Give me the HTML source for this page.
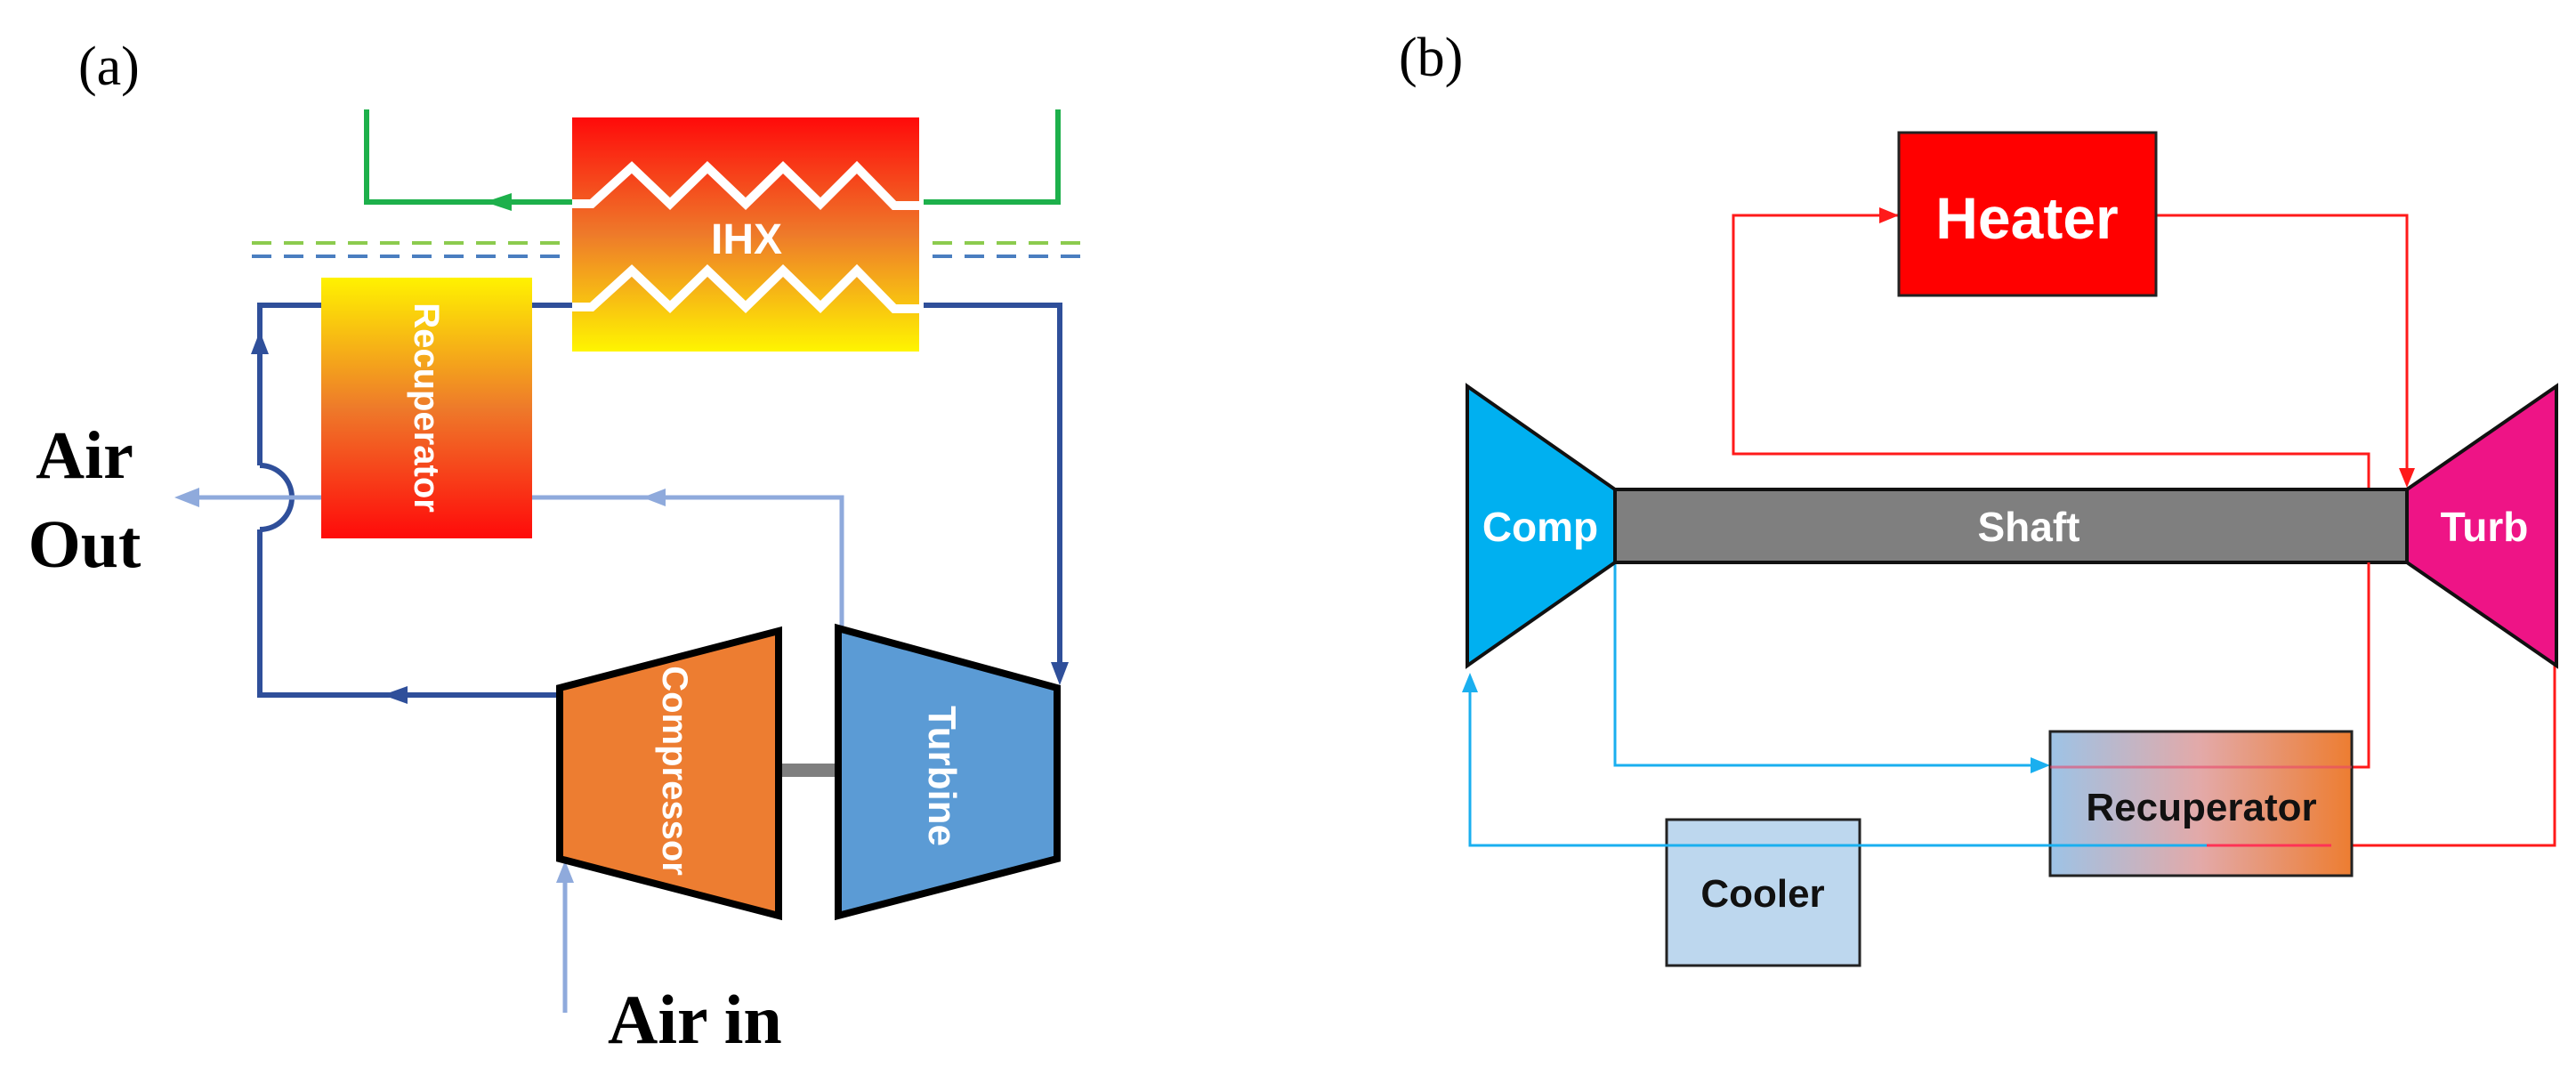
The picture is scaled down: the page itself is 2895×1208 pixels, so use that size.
<!DOCTYPE html>
<html><head><meta charset="utf-8"><style>
html,body{margin:0;padding:0;background:#fff;}
svg{display:block;}
.sans{font-family:"Liberation Sans",Arial,sans-serif;font-weight:bold;}
.serif{font-family:"Liberation Serif","Times New Roman",serif;}
</style></head><body>
<svg width="2895" height="1208" viewBox="0 0 2895 1208" xmlns="http://www.w3.org/2000/svg">
<defs>
<linearGradient id="ihx" x1="0" y1="0" x2="0" y2="1">
<stop offset="0" stop-color="#FF0A0A"/><stop offset="0.5" stop-color="#EE7A2A"/><stop offset="1" stop-color="#FFF500"/>
</linearGradient>
<linearGradient id="rec" x1="0" y1="0" x2="0" y2="1">
<stop offset="0" stop-color="#FFF200"/><stop offset="0.5" stop-color="#EE7A2A"/><stop offset="1" stop-color="#FF0A0A"/>
</linearGradient>
<linearGradient id="rec2" x1="0" y1="0" x2="1" y2="0">
<stop offset="0" stop-color="#9DC3E6"/><stop offset="0.5" stop-color="#E3A9A8"/><stop offset="1" stop-color="#ED7D31"/>
</linearGradient>
</defs>

<text x="88" y="95" class="serif" font-size="62">(a)</text>

<polyline points="412,123 412,227 643,227" fill="none" stroke="#1DB04B" stroke-width="6"/>
<polygon points="545,227 575,217 575,237" fill="#1DB04B"/>
<polyline points="1038,227 1189,227 1189,123" fill="none" stroke="#1DB04B" stroke-width="6"/>
<line x1="283" y1="273" x2="643" y2="273" stroke="#8CCB4E" stroke-width="4" stroke-dasharray="22,14"/>
<line x1="283" y1="288" x2="643" y2="288" stroke="#4A7EC0" stroke-width="4" stroke-dasharray="22,14"/>
<line x1="1048" y1="273" x2="1218" y2="273" stroke="#8CCB4E" stroke-width="4" stroke-dasharray="22,14"/>
<line x1="1048" y1="288" x2="1218" y2="288" stroke="#4A7EC0" stroke-width="4" stroke-dasharray="22,14"/>

<rect x="643" y="132" width="390" height="263" fill="url(#ihx)"/>
<polyline points="643,229 665,229 710,188 753,229 795,188 838,229 880,188 922,229 963,188 1005,231 1033,231" fill="none" stroke="#fff" stroke-width="10"/>
<polyline points="643,345 665,345 710,304 753,345 795,304 838,345 880,304 922,345 963,304 1005,347 1033,347" fill="none" stroke="#fff" stroke-width="10"/>
<text x="839" y="285" class="sans" font-size="48" fill="#fff" text-anchor="middle">IHX</text>

<polyline points="361,343 292,343 292,523" fill="none" stroke="#2F4F9A" stroke-width="6"/>
<path d="M292,523 A18,18 0 0 1 292,595" fill="none" stroke="#2F4F9A" stroke-width="6"/>
<polyline points="292,595 292,781 629,781" fill="none" stroke="#2F4F9A" stroke-width="6"/>
<polygon points="292,372 282,398 302,398" fill="#2F4F9A"/>
<polygon points="430,781 458,771 458,791" fill="#2F4F9A"/>
<line x1="598" y1="343" x2="643" y2="343" stroke="#2F4F9A" stroke-width="6"/>
<polyline points="1038,343 1191,343 1191,750" fill="none" stroke="#2F4F9A" stroke-width="6"/>
<polygon points="1191,770 1181,744 1201,744" fill="#2F4F9A"/>

<polyline points="946,704 946,559 598,559" fill="none" stroke="#8FAADC" stroke-width="5"/>
<polygon points="722,559 748,549 748,569" fill="#8FAADC"/>
<line x1="361" y1="559" x2="210" y2="559" stroke="#8FAADC" stroke-width="5"/>
<polygon points="196,559 224,548 224,570" fill="#8FAADC"/>
<line x1="635" y1="1138" x2="635" y2="985" stroke="#8FAADC" stroke-width="5"/>
<polygon points="635,967 625,992 645,992" fill="#8FAADC"/>

<rect x="361" y="312" width="237" height="293" fill="url(#rec)"/>
<text transform="translate(466,458) rotate(90)" class="sans" font-size="40" fill="#fff" text-anchor="middle">Recuperator</text>

<rect x="877" y="858" width="64" height="15" fill="#7F7F7F"/>
<polygon points="629,773 875,709 875,1029 629,965" fill="#ED7D31" stroke="#000" stroke-width="8" stroke-linejoin="miter"/>
<text transform="translate(745,866) rotate(90)" class="sans" font-size="40" fill="#fff" text-anchor="middle">Compressor</text>
<polygon points="942,706 1188,773 1188,965 942,1029" fill="#5B9BD5" stroke="#000" stroke-width="8"/>
<text transform="translate(1044,872) rotate(90)" class="sans" font-size="44" fill="#fff" text-anchor="middle">Turbine</text>

<text x="95" y="537" class="serif" font-size="76" font-weight="bold" text-anchor="middle">Air</text>
<text x="95" y="637" class="serif" font-size="76" font-weight="bold" text-anchor="middle">Out</text>
<text x="683" y="1172" class="serif" font-size="78" font-weight="bold">Air in</text>

<text x="1572" y="85" class="serif" font-size="62">(b)</text>

<polyline points="2134,242 1948,242 1948,510 2662,510 2662,862 2643,862" fill="none" stroke="#FF1A1A" stroke-width="3"/>
<polygon points="2134,242 2112,233 2112,251" fill="#FF1A1A"/>
<polyline points="2423,242 2705,242 2705,530" fill="none" stroke="#FF1A1A" stroke-width="3"/>
<polygon points="2705,548 2696,526 2714,526" fill="#FF1A1A"/>
<polyline points="2871,748 2871,950 2600,950" fill="none" stroke="#FF1A1A" stroke-width="3"/>

<polyline points="1815,632 1815,860 2290,860" fill="none" stroke="#1AAFEF" stroke-width="3"/>
<polygon points="2304,860 2282,851 2282,869" fill="#1AAFEF"/>

<rect x="2304" y="822" width="339" height="162" fill="url(#rec2)" stroke="#222" stroke-width="3"/>
<line x1="2304" y1="862" x2="2643" y2="862" stroke="#E8466A" stroke-width="3" opacity="0.6"/>
<text x="2474" y="922" class="sans" font-size="44" fill="#111" text-anchor="middle">Recuperator</text>

<rect x="1873" y="921" width="217" height="164" fill="#BDD7EE" stroke="#222" stroke-width="3"/>
<text x="1981" y="1019" class="sans" font-size="44" fill="#111" text-anchor="middle">Cooler</text>

<line x1="2620" y1="950" x2="2480" y2="950" stroke="#FF3355" stroke-width="3"/>
<polyline points="2480,950 1652,950 1652,775" fill="none" stroke="#1AAFEF" stroke-width="3"/>
<polygon points="1652,756 1643,778 1661,778" fill="#1AAFEF"/>

<rect x="2134" y="149" width="289" height="183" fill="#FF0000" stroke="#222" stroke-width="3"/>
<text x="2278" y="268" class="sans" font-size="66" fill="#fff" text-anchor="middle">Heater</text>

<rect x="1815" y="550" width="890" height="82" fill="#7F7F7F" stroke="#111" stroke-width="4"/>
<text x="2280" y="608" class="sans" font-size="46" fill="#fff" text-anchor="middle">Shaft</text>
<polygon points="1649,434 1815,550 1815,632 1649,748" fill="#00B0F0" stroke="#111" stroke-width="4"/>
<text x="1731" y="608" class="sans" font-size="46" fill="#fff" text-anchor="middle">Comp</text>
<polygon points="2705,550 2873,434 2873,748 2705,632" fill="#EE1486" stroke="#111" stroke-width="4"/>
<text x="2792" y="608" class="sans" font-size="46" fill="#fff" text-anchor="middle">Turb</text>
<line x1="2662" y1="632" x2="2662" y2="862" stroke="#FF1A1A" stroke-width="3"/>
</svg>
</body></html>
